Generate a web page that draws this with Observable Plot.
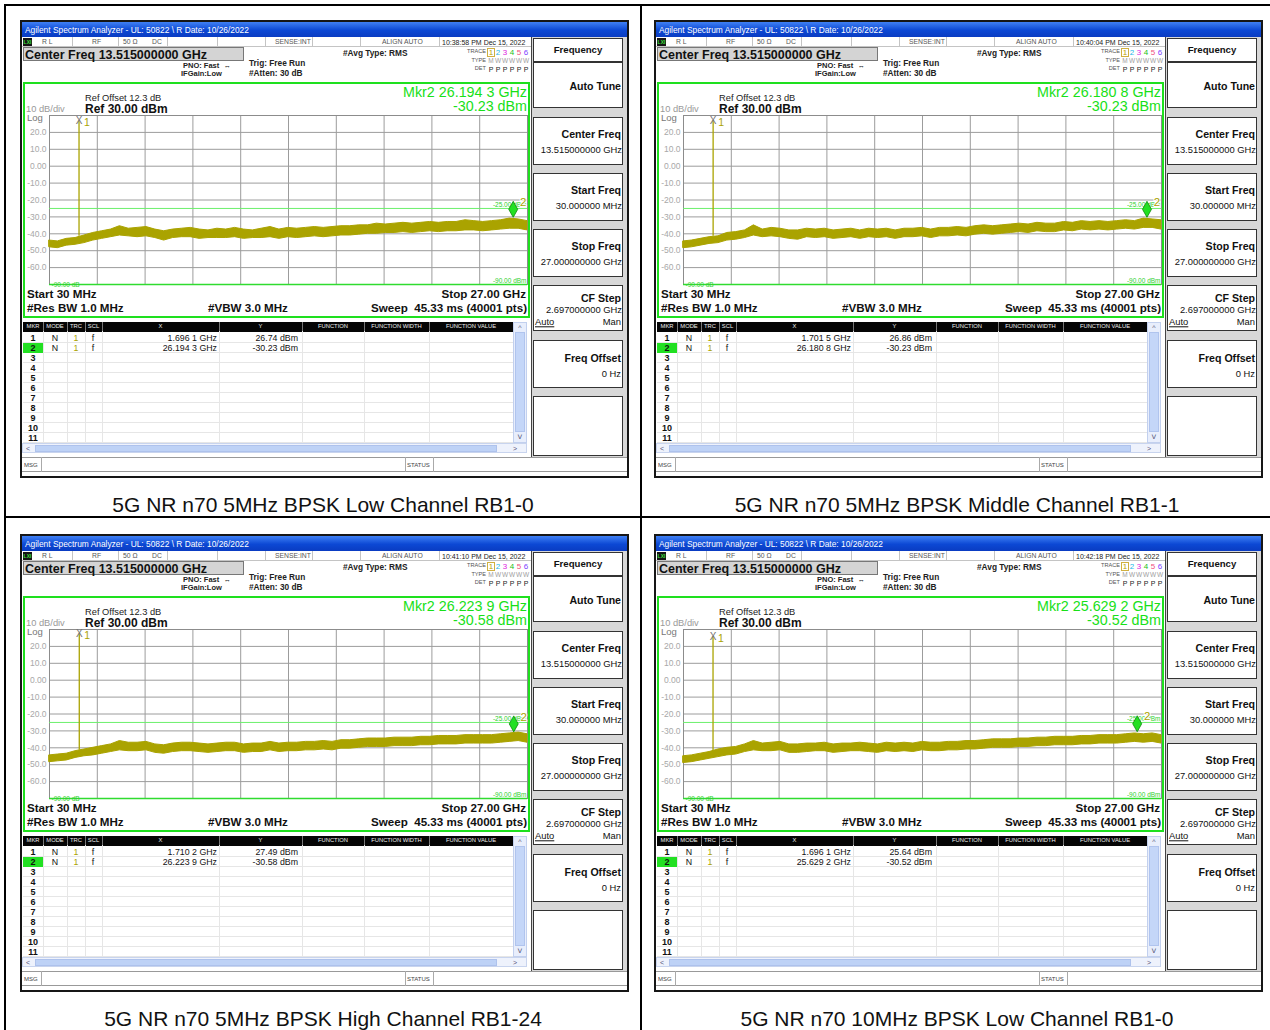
<!DOCTYPE html>
<html><head><meta charset="utf-8">
<script src="https://cdn.jsdelivr.net/npm/d3@7"></script>
<script src="https://cdn.jsdelivr.net/npm/@observablehq/plot@0.6"></script>
<style>
html,body{margin:0;padding:0;background:#fff;}
#root{position:relative;width:1270px;height:1030px;overflow:hidden;font-family:"Liberation Sans",Arial,sans-serif;color:#111;}
.a{position:absolute;white-space:pre;}
</style></head><body><div id="root"></div>
<script>
// ---------------- data ----------------
const captions = ["5G NR n70 5MHz BPSK Low Channel RB1-0","5G NR n70 5MHz BPSK Middle Channel RB1-1","5G NR n70 5MHz BPSK High Channel RB1-24","5G NR n70 10MHz BPSK Low Channel RB1-0"];
const timestamps = ["10:38:58 PM Dec 15, 2022","10:40:04 PM Dec 15, 2022","10:41:10 PM Dec 15, 2022","10:42:18 PM Dec 15, 2022"];
const mkr1Freq = [1.6961, 1.7015, 1.7102, 1.6961];
const mkr1Amp = [26.74, 26.86, 27.49, 25.64];
const mkr2Freq = [26.1943, 26.1808, 26.2239, 25.6292];
const mkr2Amp = [-30.23, -30.23, -30.58, -30.52];
const spikeBase = [-41.5, -41.5, -41.5, -42];
const startFreq = 0.03, stopFreq = 27;
const refLevel = 30, bottomLevel = -70, limitLine = -25;
const xDivisions = [2.727, 5.424, 8.121, 10.818, 13.515, 16.212, 18.909, 21.606, 24.303];
const yDivisions = [20, 10, 0, -10, -20, -30, -40, -50, -60];
const traceFreq = [0.03,0.5,1,1.5,2,2.5,3,3.5,4,4.5,5,5.5,6,6.5,7,7.5,8,8.5,9,9.5,10,10.5,11,11.5,12,12.5,13,13.5,14,14.5,15,15.5,16,16.5,17,17.5,18,18.5,19,19.5,20,20.5,21,21.5,22,22.5,23,23.5,24,24.5,25,25.5,26,26.5,27];
const traceHi1 = [-44,-44.5,-43,-42.5,-41,-39.5,-38.5,-37.5,-35.5,-37,-36.5,-36,-37.5,-38.5,-37.5,-37,-36.5,-37.5,-38,-37,-37.5,-36.5,-37.5,-38,-37,-36,-37.5,-36.5,-37,-36.5,-36,-36.5,-36,-35.5,-35.5,-35,-35,-34,-34.5,-34,-33.5,-34,-33.5,-33,-33.5,-33,-33,-32,-32.5,-33,-32.5,-32,-31,-31.5,-32.5];
const traceLo1 = [-48,-48.5,-47,-46.5,-45.5,-44,-43,-42,-41,-41.5,-42,-41.5,-42.5,-44,-42.5,-42,-42,-43,-42.5,-42.5,-42.5,-42,-43,-42.5,-42.5,-42,-43,-42,-42.5,-42,-41.5,-42,-41.5,-41,-41,-40.5,-40,-40,-39.5,-39.5,-39,-39.5,-39,-38.5,-39,-38.5,-38.5,-38,-38,-38.5,-38,-37.5,-37,-37,-38];
const traceHi2 = [-44.5,-44,-43,-42,-41.5,-39.5,-39,-38,-35,-37.5,-36.5,-37,-38,-38,-37,-37.5,-37,-38,-37.5,-37,-38,-37,-37.5,-37,-38,-37,-37,-36.5,-37.5,-36.5,-36.5,-36,-36.5,-35.5,-35,-35.5,-35,-34.5,-34,-34.5,-33.5,-34,-34,-33,-33.5,-32.5,-33,-32.5,-33,-32.5,-32,-32.5,-31,-31.5,-32];
const traceLo2 = [-48.5,-48,-47,-46,-45.5,-44,-43.5,-42.5,-41,-42,-41.5,-42,-43,-43.5,-42,-42.5,-42,-43,-42.5,-42,-43,-42,-42.5,-42,-43,-42,-42,-41.5,-42.5,-41.5,-41.5,-41,-41.5,-40.5,-40,-40.5,-40,-39.5,-39,-39.5,-38.5,-39,-39,-38,-38.5,-37.5,-38,-37.5,-38,-37.5,-37,-37.5,-36.5,-36.5,-37.5];
const traceHi3 = [-44.5,-44,-43.5,-42,-41,-40,-39,-38,-36,-37,-37,-36.5,-38,-38.5,-37.5,-37,-37,-37.5,-38,-37.5,-37,-37,-38,-37.5,-37.5,-36.5,-37.5,-37,-37,-36.5,-36.5,-36,-36.5,-35.5,-35.5,-35,-34.5,-34.5,-34.5,-34,-34,-34,-33.5,-33.5,-33,-33,-33,-32.5,-32.5,-32.5,-32.5,-32,-31.5,-31,-32];
const traceLo3 = [-48.5,-48,-47.5,-46,-45,-44.5,-43.5,-42.5,-41.5,-42,-42,-41.5,-43,-43.5,-42.5,-42,-42,-42.5,-43,-42.5,-42,-42,-43,-42.5,-42.5,-41.5,-42.5,-42,-42,-41.5,-41.5,-41,-41.5,-40.5,-40.5,-40,-39.5,-39.5,-39.5,-39,-39,-39,-38.5,-38.5,-38,-38,-38,-37.5,-37.5,-37.5,-37.5,-37,-36.5,-36,-37];
const traceHi4 = [-45,-44.5,-43.5,-42.5,-41,-40,-39.5,-38,-36,-37.5,-37,-36.5,-38,-38,-37.5,-37.5,-37,-38,-37.5,-37.5,-37,-37.5,-38,-37,-37.5,-37,-37.5,-36.5,-37,-37,-36.5,-36.5,-36,-36,-35.5,-35,-35,-35,-34.5,-34.5,-34,-34,-33.5,-33.5,-33.5,-33,-33,-32.5,-32.5,-32.5,-32,-31.5,-32,-31.5,-32.5];
const traceLo4 = [-49,-48.5,-47.5,-46.5,-45.5,-44.5,-44,-42.5,-41.5,-42,-42,-41.5,-43,-43,-42.5,-42,-42,-43,-42.5,-42,-42,-42.5,-43,-42,-42.5,-42,-42.5,-41.5,-42,-42,-41.5,-41.5,-41,-41,-40.5,-40,-40,-40,-39.5,-39.5,-39,-39,-38.5,-38.5,-38.5,-38,-38,-37.5,-37.5,-37.5,-37,-36.5,-37,-36.5,-37.5];
const traceHi = [traceHi1, traceHi2, traceHi3, traceHi4];
const traceLo = [traceLo1, traceLo2, traceLo3, traceLo4];
const tableHeaders = ["MKR","MODE","TRC","SCL","X","Y","FUNCTION","FUNCTION WIDTH","FUNCTION VALUE"];
const softkeyTitles = ["Center Freq","Start Freq","Stop Freq"];
const softkeyValues = ["13.515000000 GHz","30.000000 MHz","27.000000000 GHz"];
const traceDigits = ["1","2","3","4","5","6"];
const traceDigitColors = ["#b8a000","#1ab8e8","#e020e0","#20c020","#f05080","#7a40ff"];

// ---------------- helpers ----------------
const root = document.getElementById("root");
function box(parent, x, y, w, h, css) {
  const d = document.createElement("div"); d.className = "a";
  Object.assign(d.style, {left: x + "px", top: y + "px", width: w + "px", height: h + "px", boxSizing: "border-box"}, css || {});
  parent.appendChild(d); return d;
}
function txt(parent, x, y, s, css, anchor) {
  const d = document.createElement("div"); d.className = "a"; d.textContent = s;
  const tx = anchor === "end" ? "-100%" : anchor === "middle" ? "-50%" : "0";
  Object.assign(d.style, {left: x + "px", top: y + "px", lineHeight: "1", transform: `translate(${tx},-50%)`}, css || {});
  parent.appendChild(d); return d;
}
const ghz = f => { const s = f.toFixed(4); return s.slice(0, -1) + " " + s.slice(-1) + " GHz"; };
const dbm = v => v.toFixed(2) + " dBm";
const olive = "#aaa300";
const green = "#1ee01e";
const tallDiamond = {draw(ctx) { ctx.moveTo(0, -8); ctx.lineTo(4.5, 0); ctx.lineTo(0, 8); ctx.lineTo(-4.5, 0); ctx.closePath(); }};

function graticule(i) {
  const rows = traceFreq.map((f, j) => ({f, lo: traceLo[i][j], hi: traceHi[i][j]}));
  const m1 = [{f: mkr1Freq[i], a: mkr1Amp[i], base: spikeBase[i]}];
  const m2 = [{f: mkr2Freq[i], a: mkr2Amp[i]}];
  return Plot.plot({
    width: 504, height: 180, marginLeft: 25, marginRight: 1, marginTop: 5, marginBottom: 6,
    x: {domain: [startFreq, stopFreq], axis: null},
    y: {domain: [bottomLevel, refLevel]},
    style: {background: "transparent", fontFamily: "Liberation Sans, Arial, sans-serif", overflow: "visible"},
    marks: [
      Plot.gridX(xDivisions, {stroke: "#9c9c9c", strokeOpacity: 1}),
      Plot.gridY(yDivisions, {stroke: "#9c9c9c", strokeOpacity: 1}),
      Plot.frame({stroke: "#8c8c8c"}),
      Plot.axisY(yDivisions, {tickSize: 0, tickPadding: 3, label: null, color: "#a8a8a8", fontSize: 8.5,
        tickFormat: d => d === 0 ? "0.00" : d.toFixed(1)}),
      Plot.ruleY([limitLine], {stroke: "#6cf06c", strokeWidth: 1}),
      Plot.ruleY([bottomLevel], {stroke: "#30dc30", strokeWidth: 1.5}),
      Plot.text([limitLine], {x: stopFreq, y: d => d, text: d => d.toFixed(2) + " dBm", textAnchor: "end", dx: -1, dy: -4, fill: "#30d030", fontSize: 6.5}),
      Plot.text([bottomLevel], {x: stopFreq, y: d => d, text: () => "-90.00 dBm", textAnchor: "end", dx: -1, dy: -4, fill: "#30d030", fontSize: 6.5}),
      Plot.text([bottomLevel], {x: startFreq, y: d => d, text: () => "-90.00 dB", textAnchor: "start", dx: 2, dy: 0, fill: "#30d030", fontSize: 6.5}),
      Plot.areaY(rows, {x: "f", y1: "lo", y2: "hi", fill: olive, stroke: olive, strokeWidth: 1}),
      Plot.ruleX(m1, {x: "f", y1: "base", y2: "a", stroke: olive, strokeWidth: 1.3}),
      Plot.text(m1, {x: "f", y: "a", text: () => "X", fill: "#707070", fontSize: 10}),
      Plot.text(m1, {x: "f", y: "a", text: () => "1", fill: olive, fontSize: 10.5, dx: 8, dy: 2}),
      Plot.dot(m2, {x: "f", y: "a", symbol: tallDiamond, r: 5, dy: -8, fill: "#22e022", stroke: "#0c8a0c", strokeWidth: 0.8}),
      Plot.text(m2, {x: "f", y: "a", text: () => "2", fill: olive, fontSize: 11.5, dx: 10, dy: -15, stroke: "white", strokeWidth: 2, paintOrder: "stroke"})
    ]
  });
}

function makePanel(i, ox, oy) {
  const P = box(root, ox, oy, 605, 454, {background: "#fff"});
  box(P, -2, -2, 609, 458, {border: "2px solid #161616"});
  // title bar
  box(P, 0, 0, 605, 15, {background: "linear-gradient(#3f80f4,#0c48d4 55%,#0a3cc2)"});
  txt(P, 3, 8, "Agilent Spectrum Analyzer - UL: 50822 \\ R Date: 10/26/2022", {color: "#fff", fontSize: "8.4px"});
  // status row
  box(P, 0, 15, 510, 10, {background: "#fff", borderBottom: "1px solid #c4c4c4"});
  box(P, 1, 16, 9, 8, {background: "#151515"});
  txt(P, 5.5, 20, "LXI", {color: "#3ee03e", fontSize: "5px", fontWeight: "bold"}, "middle");
  [50, 96, 145, 195, 243, 290, 338, 417].forEach(s => box(P, s, 15, 1, 10, {background: "#c4c4c4"}));
  const st = {color: "#555", fontSize: "6.8px"};
  txt(P, 20, 20, "R L", st); txt(P, 70, 20, "RF", st); txt(P, 101, 20, "50 Ω", st); txt(P, 130, 20, "DC", st);
  txt(P, 253, 20, "SENSE:INT", st); txt(P, 360, 20, "ALIGN AUTO", st);
  txt(P, 420, 20, timestamps[i], {color: "#222", fontSize: "7px"});
  // center freq box
  box(P, 1, 25, 221, 14, {background: "#d4d4d4", border: "1px solid #777"});
  txt(P, 3, 32.5, "Center Freq 13.515000000 GHz", {fontSize: "12.5px", fontWeight: "bold", color: "#111"});
  const sb = {fontSize: "7.5px", fontWeight: "bold", color: "#222"};
  txt(P, 161, 44, "PNO: Fast  ↔", sb); txt(P, 159, 52, "IFGain:Low", sb);
  const sb2 = {fontSize: "8.3px", fontWeight: "bold", color: "#222"};
  txt(P, 227, 41, "Trig: Free Run", sb2); txt(P, 227, 51, "#Atten: 30 dB", sb2);
  txt(P, 321, 31, "#Avg Type: RMS", sb2);
  // trace block
  const lb = {fontSize: "5.6px", color: "#555"};
  txt(P, 464, 30, "TRACE", lb, "end"); txt(P, 464, 39, "TYPE", lb, "end"); txt(P, 464, 47, "DET", lb, "end");
  box(P, 465, 25.5, 8, 9.5, {border: "1px solid #d0b040"});
  traceDigits.forEach((d, k) => {
    txt(P, 469 + 7 * k, 30.5, d, {fontSize: "8px", color: traceDigitColors[k]}, "middle");
    txt(P, 469 + 7 * k, 39, k === 0 ? "M" : "W", {fontSize: "6.5px", color: "#a0a0a0"}, "middle");
    txt(P, 469 + 7 * k, 47, "P", {fontSize: "7px", color: "#222"}, "middle");
  });
  // green display box
  box(P, 1, 60, 507, 236, {border: "2px solid " + green});
  txt(P, 63, 77, "Ref Offset 12.3 dB", {fontSize: "9.3px", color: "#222"});
  txt(P, 63, 87, "Ref 30.00 dBm", {fontSize: "12px", fontWeight: "bold", color: "#111"});
  txt(P, 4, 87.5, "10 dB/div", {fontSize: "9.3px", color: "#999"});
  txt(P, 5, 95.5, "Log", {fontSize: "9.5px", color: "#777"});
  txt(P, 505, 70, "Mkr2 " + ghz(mkr2Freq[i]), {fontSize: "14.3px", color: "#18e018"}, "end");
  txt(P, 505, 84, dbm(mkr2Amp[i]), {fontSize: "14.3px", color: "#18e018"}, "end");
  const g = graticule(i);
  const gw = box(P, 2, 88, 504, 180, {});
  gw.appendChild(g);
  const bt = {fontSize: "11.6px", fontWeight: "bold", color: "#111"};
  txt(P, 5, 271.5, "Start 30 MHz", bt);
  txt(P, 5, 285.5, "#Res BW 1.0 MHz", bt);
  txt(P, 186, 285.5, "#VBW 3.0 MHz", bt);
  txt(P, 504, 271.5, "Stop 27.00 GHz", bt, "end");
  txt(P, 505, 285.5, "Sweep  45.33 ms (40001 pts)", bt, "end");
  // marker table
  const cols = [1, 21, 45, 63, 80, 197, 280, 342, 407, 491];
  box(P, 1, 300, 490, 9.5, {background: "#050505"});
  tableHeaders.forEach((h, k) => {
    txt(P, (cols[k] + cols[k + 1]) / 2, 305, h, {fontSize: "5.8px", color: "#eee"}, "middle");
    if (k > 0) box(P, cols[k], 300, 1, 9.5, {background: "#777"});
  });
  for (let k = 0; k < 11; k++) box(P, 1, 320 + 10 * k, 490, 1, {background: "#e6e6e6"});
  cols.slice(1, -1).forEach(c => box(P, c, 309, 1, 112, {background: "#e6e6e6"}));
  box(P, 1, 321, 20, 9.5, {background: "#22e022"});
  for (let k = 0; k < 11; k++) txt(P, 11, 316 + 10 * k, String(k + 1), {fontSize: "9px", fontWeight: "bold", color: "#111"}, "middle");
  const rt = {fontSize: "8.8px", color: "#111"};
  [[mkr1Freq[i], mkr1Amp[i]], [mkr2Freq[i], mkr2Amp[i]]].forEach(([f, a], k) => {
    const y = 316 + 10 * k;
    txt(P, 33, y, "N", rt, "middle");
    txt(P, 54, y, "1", {fontSize: "8.8px", color: olive}, "middle");
    txt(P, 71, y, "f", rt, "middle");
    txt(P, 195, y, ghz(f), rt, "end");
    txt(P, 276, y, dbm(a), rt, "end");
  });
  // vertical scrollbar
  box(P, 491, 300, 14, 121, {background: "#e8eefc", border: "1px solid #c2d0ee"});
  txt(P, 498, 305, "^", {fontSize: "7px", color: "#557"}, "middle");
  box(P, 493, 310, 10, 100, {background: "#c4d6f8", border: "1px solid #b0c4ee"});
  txt(P, 498, 415, "˅", {fontSize: "9px", color: "#557"}, "middle");
  // horizontal scrollbar
  box(P, 0, 421, 505, 10, {background: "#eef2fc", border: "1px solid #c8d4ee"});
  txt(P, 6, 426, "<", {fontSize: "7px", color: "#557"}, "middle");
  box(P, 13, 422.5, 462, 7, {background: "#bed2f6", border: "1px solid #aec2ec"});
  txt(P, 493, 426, ">", {fontSize: "7px", color: "#557"}, "middle");
  // softkey panel
  box(P, 509, 15, 96, 420, {background: "#d8d8d8", borderLeft: "1px solid #444"});
  const sk = {background: "#fff", border: "1px solid #333"};
  box(P, 511, 16, 90, 24, sk);
  box(P, 511, 40, 90, 46, sk);
  box(P, 511, 95, 90, 48, sk);
  box(P, 511, 151, 90, 48, sk);
  box(P, 511, 207, 90, 48, sk);
  box(P, 511, 263, 90, 46, sk);
  box(P, 511, 318, 90, 48, sk);
  box(P, 511, 374, 90, 60, sk);
  const kt = {fontSize: "10.6px", fontWeight: "bold", color: "#111"};
  const kv = {fontSize: "9.4px", color: "#111"};
  txt(P, 556, 27.5, "Frequency", {fontSize: "9.6px", fontWeight: "bold", color: "#111"}, "middle");
  txt(P, 599, 63.5, "Auto Tune", kt, "end");
  softkeyTitles.forEach((t, k) => {
    txt(P, 599, 111.5 + 56 * k, t, kt, "end");
    txt(P, 600, 127.5 + 56 * k, softkeyValues[k], kv, "end");
  });
  txt(P, 599, 275.5, "CF Step", kt, "end");
  txt(P, 600, 287.5, "2.697000000 GHz", kv, "end");
  txt(P, 513, 299.5, "Auto", {...kv, textDecoration: "underline"});
  txt(P, 599, 299.5, "Man", kv, "end");
  txt(P, 599, 335.5, "Freq Offset", kt, "end");
  txt(P, 599, 351.5, "0 Hz", kv, "end");
  // msg bar
  box(P, 0, 435, 605, 15, {background: "#fff", borderTop: "1px solid #999", borderBottom: "1px solid #999"});
  box(P, 19, 435, 1, 15, {background: "#aaa"});
  box(P, 383, 435, 1, 15, {background: "#aaa"});
  box(P, 411, 435, 1, 15, {background: "#aaa"});
  txt(P, 2, 443, "MSG", {fontSize: "6px", color: "#444"});
  txt(P, 385, 443, "STATUS", {fontSize: "6px", color: "#444"});
}

// outer table lines
box(root, 4, 4, 1266, 2, {background: "#000"});
box(root, 4, 4, 2, 1026, {background: "#000"});
box(root, 640, 4, 2, 1026, {background: "#000"});
box(root, 4, 516, 1266, 2, {background: "#000"});

const origins = [[22, 22], [656, 22], [22, 536], [656, 536]];
const captionPos = [[323, 504], [957, 504], [323, 1018], [957, 1018]];
origins.forEach(([x, y], i) => makePanel(i, x, y));
captions.forEach((c, i) => txt(root, captionPos[i][0], captionPos[i][1], c, {fontSize: "21px", color: "#111"}, "middle"));
</script></body></html>
